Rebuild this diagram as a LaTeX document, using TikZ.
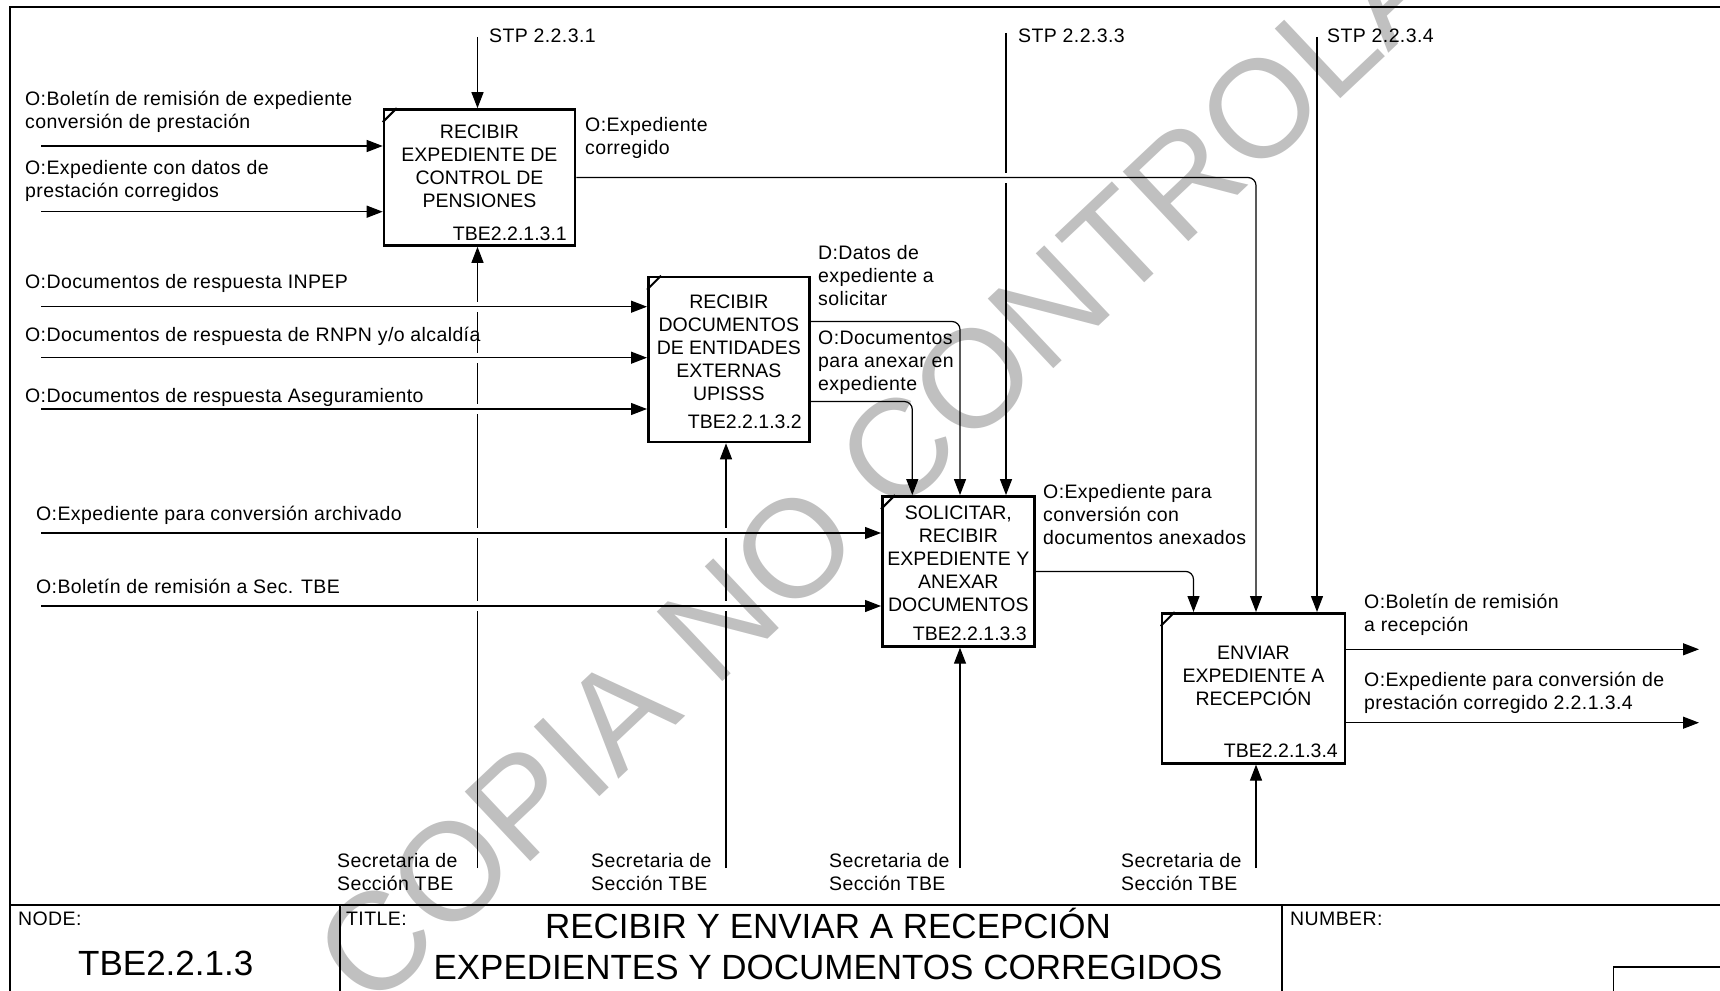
\documentclass[tikz,border=0pt]{standalone}
\usepackage{fontspec}
\setmainfont{Liberation Sans}
\newfontfamily\labelfam[LetterSpace=2]{Liberation Sans}
\usetikzlibrary{calc,arrows.meta}
\definecolor{ink}{HTML}{000000}
\definecolor{wmark}{HTML}{C0C0C0}
\newcommand{\lblfont}{\labelfam\fontsize{19.5}{23}\selectfont}
\newcommand{\boxfont}{\fontsize{19.5}{23}\selectfont}
\newcommand{\bigfont}{\fontsize{35}{41}\selectfont}
\newcommand{\crossgap}[2]{\fill[white] ($(#1 |- #2)+(-3,-5)$) rectangle ($(#1 |- #2)+(3,5)$);}
\tikzset{
  frameline/.style={draw=ink, line width=1.3pt},
  proc/.style={draw=ink, line width=2.6pt, inner sep=0pt},
  tab/.style={draw=ink, line width=2pt},
  link/.style={draw=ink, line width=1.2pt, -{Triangle[length=16pt,width=12pt]}},
  ptxt/.style={font=\boxfont, align=center, anchor=base, inner sep=0pt},
  pcode/.style={font=\boxfont, anchor=base east, inner sep=0pt},
  lab/.style={font=\lblfont, align=left, anchor=base west, inner sep=0pt},
  wm/.style={text=wmark, font=\fontsize{139}{139}\selectfont, inner sep=0pt},
}

\begin{document}
\begin{tikzpicture}[x=1pt, y={(0,-1pt)}]
\useasboundingbox (0,0) rectangle (1720,990);
% watermark
\node[wm, rotate=43.3] (wmk) at (951,400) {COPIA NO CONTROLADA};

% frame and title block
\draw[frameline] (10,995) -- (10,7) -- (1725,7);
\draw[frameline] (10,905) -- (1725,905);
\draw[frameline] (340,905) -- (340,995);
\draw[frameline] (1282,905) -- (1282,995);
\draw[frameline] (1725,967) -- (1613.5,967) -- (1613.5,995);

% activity boxes
\node[proc, minimum width=191pt, minimum height=136pt] (a1) at (479.5,177.5) {};
\node[proc, minimum width=161pt, minimum height=165pt] (a2) at (728.8,359.5) {};
\node[proc, minimum width=152pt, minimum height=150pt] (a3) at (958.3,571.4) {};
\node[proc, minimum width=183pt, minimum height=150pt] (a4) at (1253.5,688.3) {};
\foreach \b in {a1,a2,a3,a4}
  \draw[tab] ([yshift=-14pt]\b.north west) -- ([xshift=14pt]\b.north west);

% free ends
\coordinate (c1) at (477.5,37);
\coordinate (c3) at (1006,33);
\coordinate (c4) at (1317,37);
\coordinate (m1) at (477.5,868);
\coordinate (m2) at (726,868);
\coordinate (m3) at (960,868);
\coordinate (m4) at (1256,868);
\coordinate (i11) at (41,146);
\coordinate (i12) at (41,211.7);
\coordinate (i21) at (41,306.7);
\coordinate (i22) at (41,357.7);
\coordinate (i23) at (41,409);
\coordinate (i31) at (41,533);
\coordinate (i32) at (41,606);
\coordinate (e41) at (1699,649.3);
\coordinate (e42) at (1699,722.7);

% controls and mechanisms
\draw[link] (c1) -- (c1 |- a1.north);
\draw[link] (c3) -- (c3 |- a3.north);
\draw[link] (c4) -- (c4 |- a4.north);
\foreach \m/\b in {m1/a1,m2/a2,m3/a3,m4/a4}
  \draw[link] (\m) -- (\m |- \b.south);

% breaks where lines cross
\foreach \h in {i21,i22,i23,i31,i32} {\crossgap{m1}{\h}}
\foreach \h in {i31,i32} {\crossgap{m2}{\h}}
\crossgap{c3}{a1.east}

% inputs
\foreach \i/\b in {i11/a1,i12/a1,i21/a2,i22/a2,i23/a2,i31/a3,i32/a3}
  \draw[link] (\i) -- (\i -| \b.west);

% outputs
\draw[link, rounded corners=8pt] (a1.east) -| (m4 |- a4.north);
\draw[link, rounded corners=8pt] ([yshift=38pt]a2.east) -| (m3 |- a3.north);
\draw[link, rounded corners=8pt] ([yshift=-42pt]a2.east) -| ([xshift=-46pt]a3.north);
\draw[link, rounded corners=8pt] (a3.east) -| ([xshift=-60pt]a4.north);
\draw[link] (e41 -| a4.east) -- (e41);
\draw[link] (e42 -| a4.east) -- (e42);

% box texts (base = last line)
\node[ptxt] (t1) at (479.5,207) {RECIBIR\\EXPEDIENTE DE\\CONTROL DE\\PENSIONES};
\node[ptxt] (t2) at (728.8,400) {RECIBIR\\DOCUMENTOS\\DE ENTIDADES\\EXTERNAS\\UPISSS};
\node[ptxt] (t3) at (958.3,611.5) {SOLICITAR,\\RECIBIR\\EXPEDIENTE Y\\ANEXAR\\DOCUMENTOS};
\node[ptxt] (t4) at (1253.5,705.5) {ENVIAR\\EXPEDIENTE A\\RECEPCIÓN};
\node[pcode] (k1) at (567,240) {TBE2.2.1.3.1};
\node[pcode] (k2) at (802,428.5) {TBE2.2.1.3.2};
\node[pcode] (k3) at (1027,640) {TBE2.2.1.3.3};
\node[pcode] (k4) at (1338,757) {TBE2.2.1.3.4};

% arrow labels
\node[lab] (lc1) at (489,42) {STP 2.2.3.1};
\node[lab] (lc3) at (1018,42) {STP 2.2.3.3};
\node[lab] (lc4) at (1327,42) {STP 2.2.3.4};
\node[lab] (li11) at (25,128) {O:Boletín de remisión de expediente\\conversión de prestación};
\node[lab] (li12) at (25,197) {O:Expediente con datos de\\prestación corregidos};
\node[lab] (li21) at (25,288) {O:Documentos de respuesta INPEP};
\node[lab] (li22) at (25,341) {O:Documentos de respuesta de RNPN y/o alcaldía};
\node[lab] (li23) at (25,402) {O:Documentos de respuesta Aseguramiento};
\node[lab] (li31) at (36,520) {O:Expediente para conversión archivado};
\node[lab] (li32) at (36,593) {O:Boletín de remisión a Sec. TBE};
\node[lab] (lo1) at (585,154) {O:Expediente\\corregido};
\node[lab] (lo21) at (818,305) {D:Datos de\\expediente a\\solicitar};
\node[lab] (lo22) at (818,390) {O:Documentos\\para anexar en\\expediente};
\node[lab] (lo3) at (1043,544) {O:Expediente para\\conversión con\\documentos anexados};
\node[lab] (lo41) at (1364,631) {O:Boletín de remisión\\a recepción};
\node[lab] (lo42) at (1364,709) {O:Expediente para conversión de\\prestación corregido 2.2.1.3.4};
\foreach \x [count=\n] in {337,591,829,1121}
  \node[lab] (lm\n) at (\x,890) {Secretaria de\\Sección TBE};

% title block texts
\node[lab] (nodehd) at (18,925) {NODE:};
\node[lab] (titlehd) at (346,925) {TITLE:};
\node[lab] (numhd) at (1290,925) {NUMBER:};
\node[font=\bigfont, anchor=base west, inner sep=0pt] (nodeid) at (78,975.5) {TBE2.2.1.3};
\node[font=\bigfont, align=center, anchor=base, inner sep=0pt] (title) at (828,979) {RECIBIR Y ENVIAR A RECEPCIÓN\\EXPEDIENTES Y DOCUMENTOS CORREGIDOS};
\end{tikzpicture}
\end{document}
